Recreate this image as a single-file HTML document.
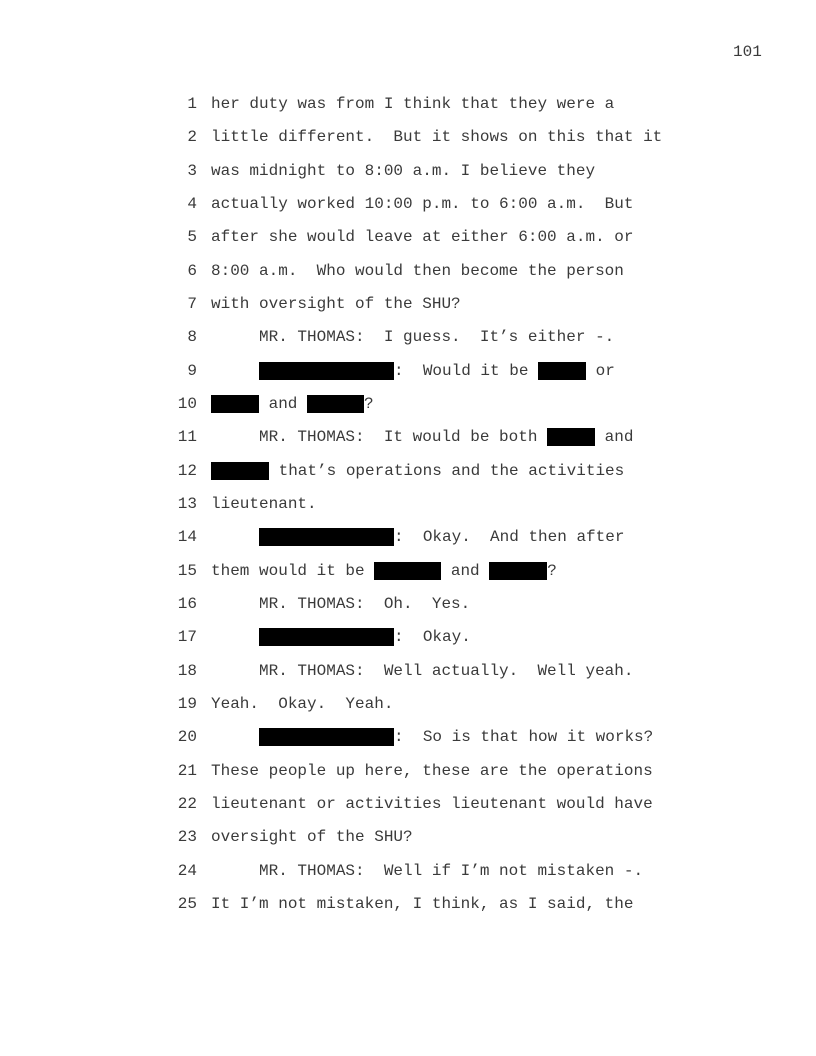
<!DOCTYPE html>
<html><head><meta charset="utf-8"><style>
html,body{margin:0;padding:0;background:#fff;}
body{width:816px;height:1056px;position:relative;overflow:hidden;font-family:"Liberation Mono",monospace;font-size:16px;color:#3a3a3a;}
.n{position:absolute;left:160px;width:37px;text-align:right;line-height:18px;white-space:pre;}
.t{position:absolute;left:211px;line-height:18px;white-space:pre;}
.b{display:inline-block;background:#000;height:18px;vertical-align:top;}
.pg{position:absolute;left:733px;top:43px;line-height:18px;}
</style></head><body>
<div class="pg">101</div>
<div class="n" style="top:95px">1</div><div class="t" style="top:95px">her duty was from I think that they were a</div>
<div class="n" style="top:128.3px">2</div><div class="t" style="top:128.3px">little different.  But it shows on this that it</div>
<div class="n" style="top:161.7px">3</div><div class="t" style="top:161.7px">was midnight to 8:00 a.m. I believe they</div>
<div class="n" style="top:195px">4</div><div class="t" style="top:195px">actually worked 10:00 p.m. to 6:00 a.m.  But</div>
<div class="n" style="top:228.3px">5</div><div class="t" style="top:228.3px">after she would leave at either 6:00 a.m. or</div>
<div class="n" style="top:261.7px">6</div><div class="t" style="top:261.7px">8:00 a.m.  Who would then become the person</div>
<div class="n" style="top:295px">7</div><div class="t" style="top:295px">with oversight of the SHU?</div>
<div class="n" style="top:328.3px">8</div><div class="t" style="top:328.3px">     MR. THOMAS:  I guess.  It’s either -.</div>
<div class="n" style="top:361.7px">9</div><div class="t" style="top:361.7px">     <span class="b" style="width:135px"></span>:  Would it be <span class="b" style="width:48px"></span> or</div>
<div class="n" style="top:395px">10</div><div class="t" style="top:395px"><span class="b" style="width:48px"></span> and <span class="b" style="width:57px"></span>?</div>
<div class="n" style="top:428.3px">11</div><div class="t" style="top:428.3px">     MR. THOMAS:  It would be both <span class="b" style="width:48px"></span> and</div>
<div class="n" style="top:461.7px">12</div><div class="t" style="top:461.7px"><span class="b" style="width:58px"></span> that’s operations and the activities</div>
<div class="n" style="top:495px">13</div><div class="t" style="top:495px">lieutenant.</div>
<div class="n" style="top:528.3px">14</div><div class="t" style="top:528.3px">     <span class="b" style="width:135px"></span>:  Okay.  And then after</div>
<div class="n" style="top:561.7px">15</div><div class="t" style="top:561.7px">them would it be <span class="b" style="width:67px"></span> and <span class="b" style="width:58px"></span>?</div>
<div class="n" style="top:595px">16</div><div class="t" style="top:595px">     MR. THOMAS:  Oh.  Yes.</div>
<div class="n" style="top:628.3px">17</div><div class="t" style="top:628.3px">     <span class="b" style="width:135px"></span>:  Okay.</div>
<div class="n" style="top:661.7px">18</div><div class="t" style="top:661.7px">     MR. THOMAS:  Well actually.  Well yeah.</div>
<div class="n" style="top:695px">19</div><div class="t" style="top:695px">Yeah.  Okay.  Yeah.</div>
<div class="n" style="top:728.3px">20</div><div class="t" style="top:728.3px">     <span class="b" style="width:135px"></span>:  So is that how it works?</div>
<div class="n" style="top:761.7px">21</div><div class="t" style="top:761.7px">These people up here, these are the operations</div>
<div class="n" style="top:795px">22</div><div class="t" style="top:795px">lieutenant or activities lieutenant would have</div>
<div class="n" style="top:828.3px">23</div><div class="t" style="top:828.3px">oversight of the SHU?</div>
<div class="n" style="top:861.7px">24</div><div class="t" style="top:861.7px">     MR. THOMAS:  Well if I’m not mistaken -.</div>
<div class="n" style="top:895px">25</div><div class="t" style="top:895px">It I’m not mistaken, I think, as I said, the</div>
</body></html>
